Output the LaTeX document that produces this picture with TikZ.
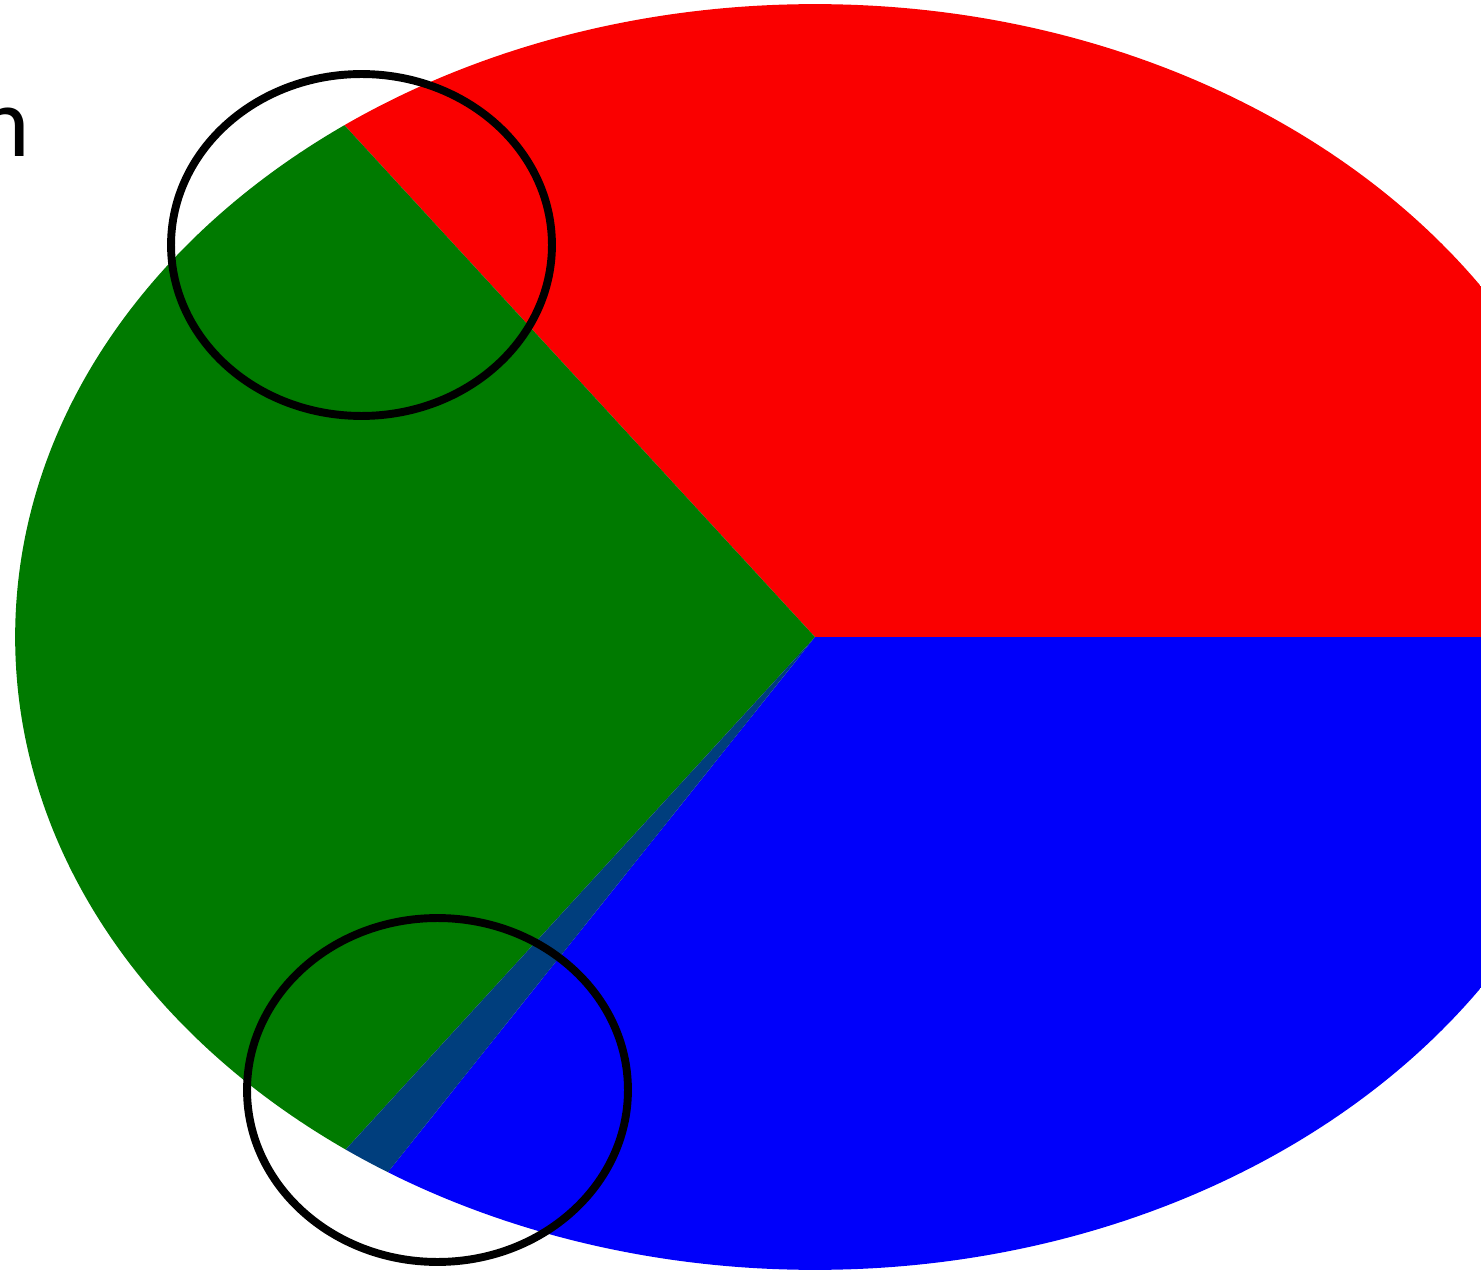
\documentclass[tikz,border=0pt]{standalone}
\usepackage{fontspec}
\setmainfont{Carlito}
\usetikzlibrary{positioning,calc}
\definecolor{PieRed}{RGB}{250,0,0}
\definecolor{PieGreen}{RGB}{0,122,0}
\definecolor{PieBlue}{RGB}{0,0,250}
\definecolor{Overlap}{RGB}{0,62,125}
\tikzset{
  sector/.style={draw=none},
  ring/.style={draw=black,line width=4.5pt},
  cutlabel/.style={font=\fontsize{57}{60}\selectfont,inner sep=0pt,anchor=base east}
}
\begin{document}
\begin{tikzpicture}[x=0.02cm,y=-0.02cm]
\useasboundingbox (0,0) rectangle (1481,1273);
\clip (0,0) rectangle (1481,1273);
\fill[white] (0,0) rectangle (1481,1273);
\coordinate (C) at (815,637);
\coordinate (RG) at (-121,-381);
\coordinate (GB) at (-121,1659);
\coordinate (BB) at (-39,1707);

\begin{scope}
\clip (C) ellipse [x radius=16cm,y radius=12.66cm];
\fill[sector,PieRed](C)--(1700,637)--(1700,-500)--(RG)--cycle;
\fill[sector,PieGreen](C)--(RG)--(-300,-381)--(-300,1800)--(GB)--cycle;
\fill[sector,PieBlue](C)--(1700,637)--(1700,1800)--(-39,1800)--(BB)--cycle;
\fill[sector,Overlap](C)--(GB)--(BB)--cycle;
\end{scope}

\draw[ring] (361.5,245) ellipse [x radius=3.81cm,y radius=3.42cm];
\draw[ring] (437.5,1090) ellipse [x radius=3.81cm,y radius=3.44cm];

\node[cutlabel] (n) at (30,157) {n};
\end{tikzpicture}
\end{document}
